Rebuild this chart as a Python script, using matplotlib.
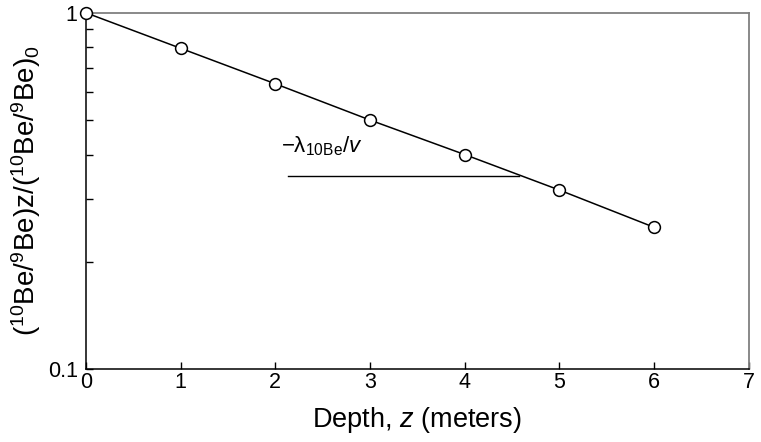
import numpy as np
import matplotlib
matplotlib.use("Agg")
import matplotlib.pyplot as plt
from matplotlib.ticker import FixedLocator, NullFormatter

plt.rcParams['font.family'] = ['Liberation Sans', 'DejaVu Sans']
plt.rcParams['mathtext.fontset'] = 'custom'
plt.rcParams['mathtext.rm'] = 'Liberation Sans'
plt.rcParams['mathtext.it'] = 'Liberation Sans:italic'

# --- data ---
depth = [0, 1, 2, 3, 4, 5, 6]
ratio = [1.0, 0.795, 0.632, 0.50, 0.40, 0.318, 0.25]
slope_x = [2.13, 4.57]
slope_y = [0.349, 0.349]
x_ticks = [0, 1, 2, 3, 4, 5, 6, 7]
y_ticks = [0.1, 1]
y_tick_labels = ['0.1', '1']
y_minor = [0.2, 0.3, 0.4, 0.5, 0.6, 0.7, 0.8, 0.9]

fig = plt.figure(figsize=(7.61, 4.42), dpi=100)
ax = fig.add_axes([0.113, 0.165, 0.871, 0.806])

ax.plot(depth, ratio, 'k-', linewidth=1.1, marker='o', markersize=8.5,
        markerfacecolor='white', markeredgecolor='black', markeredgewidth=1.1,
        clip_on=False, zorder=3)
ax.plot(slope_x, slope_y, 'k-', linewidth=1.0)
ax.text(2.06, 0.392, r'$-\mathrm{λ}_{\mathrm{10Be}}/\mathit{v}$', fontsize=16,
        ha='left', va='bottom')

ax.set_yscale('log')
ax.set_xlim(0, 7)
ax.set_ylim(0.1, 1)
ax.xaxis.set_major_locator(FixedLocator(x_ticks))
ax.yaxis.set_major_locator(FixedLocator(y_ticks))
ax.set_yticklabels(y_tick_labels)
ax.yaxis.set_minor_locator(FixedLocator(y_minor))
ax.yaxis.set_minor_formatter(NullFormatter())
ax.tick_params(axis='both', which='major', direction='in', length=5, width=1,
               labelsize=15.5)
ax.tick_params(axis='x', which='major', pad=2)
ax.tick_params(axis='y', which='major', pad=6)
ax.tick_params(axis='y', which='minor', direction='in', length=5, width=1)
ax.tick_params(top=False, right=False)

for side in ('top', 'right'):
    ax.spines[side].set_color('#808080')
    ax.spines[side].set_linewidth(1.3)
for side in ('left', 'bottom'):
    ax.spines[side].set_linewidth(1.1)

ax.set_xlabel(r'Depth, $\mathit{z}$ (meters)', fontsize=19.5, labelpad=9)
ax.set_ylabel(r'($^{10}$Be/$^{9}$Be)z/($^{10}$Be/$^{9}$Be)$_{0}$', fontsize=20,
              labelpad=3)

fig.savefig('out.png', dpi=100)
